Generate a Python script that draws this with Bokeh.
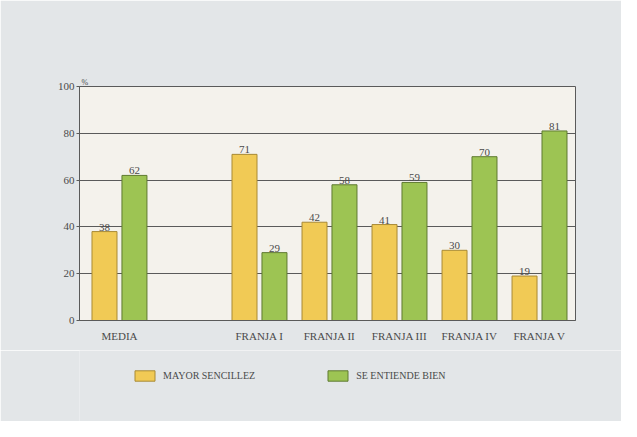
from bokeh.plotting import figure
from bokeh.layouts import column
from bokeh.models import ColumnDataSource, Legend, LegendItem, FixedTicker, Range1d
from bokeh.core.properties import value
from bokeh.embed import file_html
from bokeh.resources import INLINE

categories = ["MEDIA", "FRANJA I", "FRANJA II", "FRANJA III", "FRANJA IV", "FRANJA V"]
positions = [0, 2, 3, 4, 5, 6]
mayor_sencillez = [38, 71, 42, 41, 30, 19]
se_entiende_bien = [62, 29, 58, 59, 70, 81]
y_ticks = [0, 20, 40, 60, 80, 100]

FONT = "Liberation Serif"
YEL = "#f1ca55"
YEL_L = "#a98a35"
GRN = "#9dc453"
GRN_L = "#5f7a30"
TXT = "#4a4a4a"
GRID = "#5a5a5a"
BG = "#e3e6e8"

off = 0.214
bw = 0.357
src_y = ColumnDataSource(dict(x=[p - off for p in positions], top=mayor_sencillez,
                              lab=[str(v) for v in mayor_sencillez]))
src_g = ColumnDataSource(dict(x=[p + off for p in positions], top=se_entiende_bien,
                              lab=[str(v) for v in se_entiende_bien]))

p = figure(frame_width=496, frame_height=234, output_backend="svg", toolbar_location=None,
           x_range=Range1d(-0.571, 6.514), y_range=Range1d(0, 100),
           min_border_left=79, min_border_right=46, min_border_top=86, min_border_bottom=30,
           title="%")
p.title.text_font = FONT
p.title.text_font_size = "8px"
p.title.text_font_style = "normal"
p.title.text_color = TXT
p.title.align = "left"
p.title.offset = 2
p.title.standoff = 0
p.title.padding = 0

p.background_fill_color = "#f4f2ec"
p.border_fill_color = BG
p.outline_line_color = GRID
p.outline_line_width = 1

p.vbar(x="x", top="top", width=bw, source=src_y, fill_color=YEL, line_color=YEL_L, line_width=1)
p.vbar(x="x", top="top", width=bw, source=src_g, fill_color=GRN, line_color=GRN_L, line_width=1)

for s in (src_y, src_g):
    p.text(x="x", y="top", text="lab", source=s, text_align="center", text_baseline="bottom",
           y_offset=-1, text_font=value(FONT), text_font_size="11px", text_color=TXT)

p.xgrid.visible = False
p.ygrid.ticker = FixedTicker(ticks=y_ticks)
p.ygrid.grid_line_color = GRID
p.ygrid.grid_line_width = 1

p.yaxis.ticker = FixedTicker(ticks=y_ticks)
p.yaxis.major_label_text_font = FONT
p.yaxis.major_label_text_font_size = "11px"
p.yaxis.major_label_text_color = TXT
p.yaxis.axis_line_color = GRID
p.yaxis.major_tick_line_color = GRID
p.yaxis.major_tick_out = 3
p.yaxis.major_tick_in = 0
p.yaxis.minor_tick_line_color = None
p.yaxis.major_label_standoff = 2

p.xaxis.ticker = FixedTicker(ticks=positions)
p.xaxis.major_label_overrides = {pos: c for pos, c in zip(positions, categories)}
p.xaxis.major_label_text_font = FONT
p.xaxis.major_label_text_font_size = "11px"
p.xaxis.major_label_text_color = TXT
p.xaxis.axis_line_color = GRID
p.xaxis.major_tick_line_color = None
p.xaxis.minor_tick_line_color = None
p.xaxis.major_label_standoff = 3

# legend strip below the chart (proxy renderers use the same data, kept out of view)
lg = figure(frame_width=621, frame_height=71, output_backend="svg", toolbar_location=None,
            x_range=Range1d(0, 1), y_range=Range1d(1000, 1001), x_axis_type=None, y_axis_type=None,
            min_border=0)
lg.background_fill_color = BG
lg.border_fill_color = BG
lg.outline_line_color = None
lg.xgrid.visible = False
lg.ygrid.visible = False
e1 = lg.vbar(x="x", top="top", width=bw, source=src_y, fill_color=YEL, line_color=YEL_L, line_width=1)
e2 = lg.vbar(x="x", top="top", width=bw, source=src_g, fill_color=GRN, line_color=GRN_L, line_width=1)
legend = Legend(items=[LegendItem(label="MAYOR SENCILLEZ", renderers=[e1]),
                       LegendItem(label="SE ENTIENDE BIEN", renderers=[e2])],
                orientation="horizontal", location=(132, 39),
                glyph_width=25, glyph_height=13, label_height=13, spacing=70, padding=0, margin=0,
                label_text_font=FONT, label_text_font_size="10px", label_text_color=TXT,
                label_standoff=6, background_fill_alpha=0, border_line_color=None)
lg.add_layout(legend, "center")

layout = column(p, lg, spacing=0)
open("out.html", "w").write(file_html(layout, INLINE))
